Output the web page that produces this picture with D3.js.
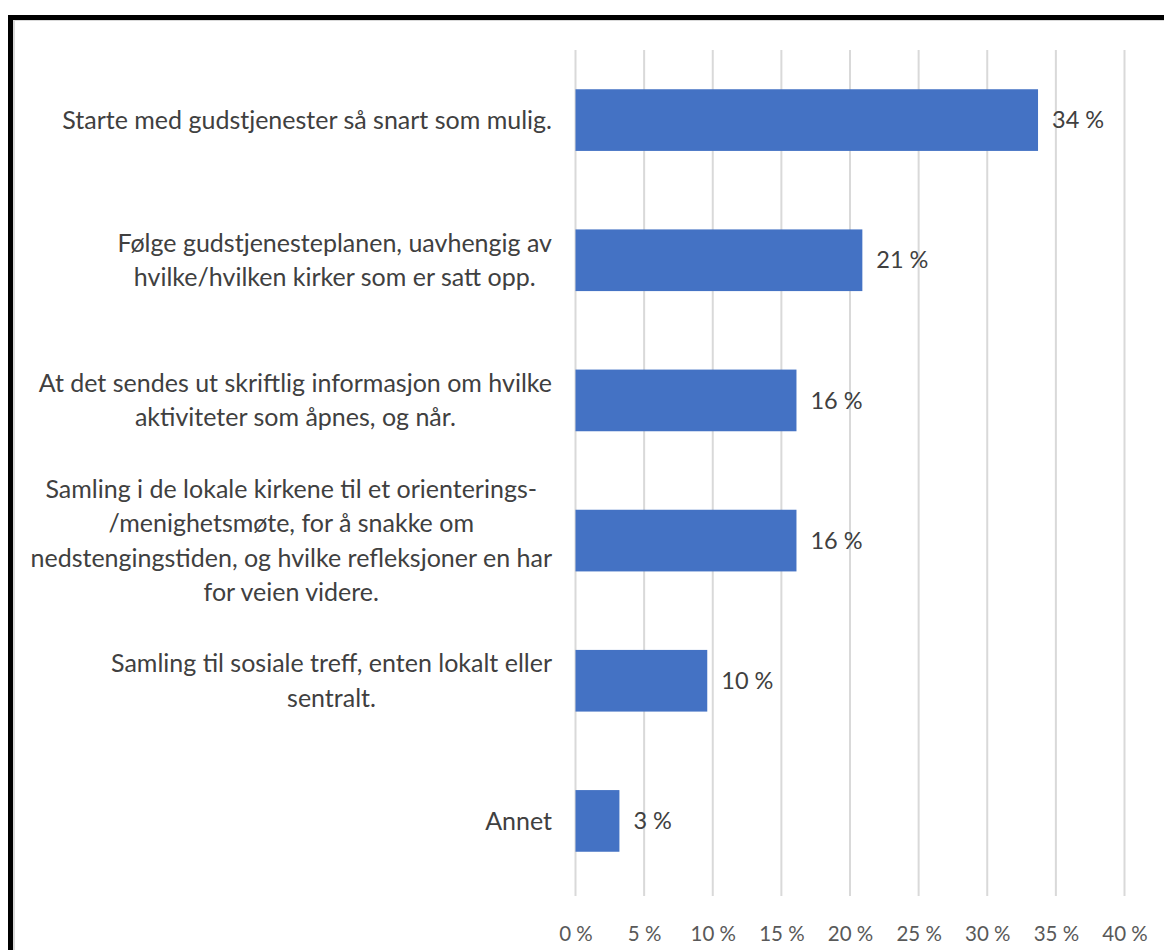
<!DOCTYPE html>
<html>
<head>
<meta charset="utf-8">
<script src="https://cdn.jsdelivr.net/npm/d3@7"></script>
<style>
  body { margin: 0; background: #fff; }
  text { font-family: Lato, 'Open Sans', sans-serif; }
</style>
</head>
<body>
<div id="chart"></div>
<script>
// constants
const FRAME_WIDTH = 1164;
const FRAME_HEIGHT = 950;
const X0 = 575.5, X1 = 1124.5;
const Y0 = 50, Y1 = 891;

// data
const categories = [
  ['Starte med gudstjenester så snart som mulig.'],
  ['Følge gudstjenesteplanen, uavhengig av', 'hvilke/hvilken kirker som er satt opp.'],
  ['At det sendes ut skriftlig informasjon om hvilke', 'aktiviteter som åpnes, og når.'],
  ['Samling i de lokale kirkene til et orienterings-', '/menighetsmøte, for å snakke om', 'nedstengingstiden, og hvilke refleksjoner en har', 'for veien videre.'],
  ['Samling til sosiale treff, enten lokalt eller', 'sentralt.'],
  ['Annet']
];
const values = [33.7, 20.9, 16.1, 16.1, 9.6, 3.2];
const valueLabels = ['34 %', '21 %', '16 %', '16 %', '10 %', '3 %'];
const ticks = [0, 5, 10, 15, 20, 25, 30, 35, 40];

let svg = d3.select('#chart')
            .append('svg')
            .attr('width', FRAME_WIDTH)
            .attr('height', FRAME_HEIGHT);

// frame border
svg.append('rect')
   .attr('x', 14).attr('y', 20)
   .attr('width', FRAME_WIDTH).attr('height', FRAME_HEIGHT)
   .attr('fill', 'none').attr('stroke', '#d9d9d9').attr('stroke-width', 2);
svg.append('path')
   .attr('d', 'M10.5,' + (FRAME_HEIGHT) + ' V17.5 H' + FRAME_WIDTH)
   .attr('fill', 'none').attr('stroke', '#000').attr('stroke-width', 5);

// scales
let xScale = d3.scaleLinear().domain([0, 40]).range([X0, X1]);
let yScale = d3.scaleBand()
               .domain(d3.range(categories.length))
               .range([Y0, Y1])
               .paddingInner(0.56)
               .paddingOuter(0.28);

// gridlines
svg.append('g').selectAll('line')
   .data(ticks).enter().append('line')
   .attr('x1', d => xScale(d)).attr('x2', d => xScale(d))
   .attr('y1', Y0).attr('y2', 896)
   .attr('stroke', '#d9d9d9').attr('stroke-width', 2);

// x axis tick labels
let xAxis = svg.append('g')
   .attr('transform', 'translate(0,' + 926 + ')')
   .call(d3.axisBottom(xScale).tickValues(ticks).tickSize(0).tickPadding(0)
           .tickFormat(d => d + ' %'));
xAxis.select('.domain').remove();
xAxis.selectAll('text')
     .attr('font-family', "Lato, 'Open Sans', sans-serif")
     .attr('font-size', '20.5px').attr('fill', '#595959');

// bars
svg.append('g').selectAll('rect')
   .data(values).enter().append('rect')
   .attr('x', xScale(0))
   .attr('y', (d, i) => yScale(i))
   .attr('width', d => xScale(d) - xScale(0))
   .attr('height', yScale.bandwidth())
   .attr('fill', '#4472c4');

// value labels
svg.append('g').selectAll('text')
   .data(values).enter().append('text')
   .attr('x', d => xScale(d) + 14)
   .attr('y', (d, i) => yScale(i) + yScale.bandwidth() / 2)
   .attr('dy', '0.35em')
   .attr('font-size', '23.5px').attr('fill', '#404040')
   .text((d, i) => valueLabels[i]);

// category labels, lines centered within a block right aligned to the axis
const LINE_H = 34.5;
const RIGHT = 552;
categories.forEach(function(lines, i) {
  let g = svg.append('g');
  let cy = yScale(i) + yScale.bandwidth() / 2;
  let texts = lines.map(function(line, j) {
    return g.append('text')
            .attr('y', cy + (j - (lines.length - 1) / 2) * LINE_H)
            .attr('dy', '0.35em')
            .attr('font-size', '25px').attr('fill', '#404040')
            .attr('text-anchor', 'middle')
            .text(line);
  });
  let w = d3.max(texts, t => t.node().getComputedTextLength());
  texts.forEach(t => t.attr('x', RIGHT - w / 2));
});
</script>
</body>
</html>
